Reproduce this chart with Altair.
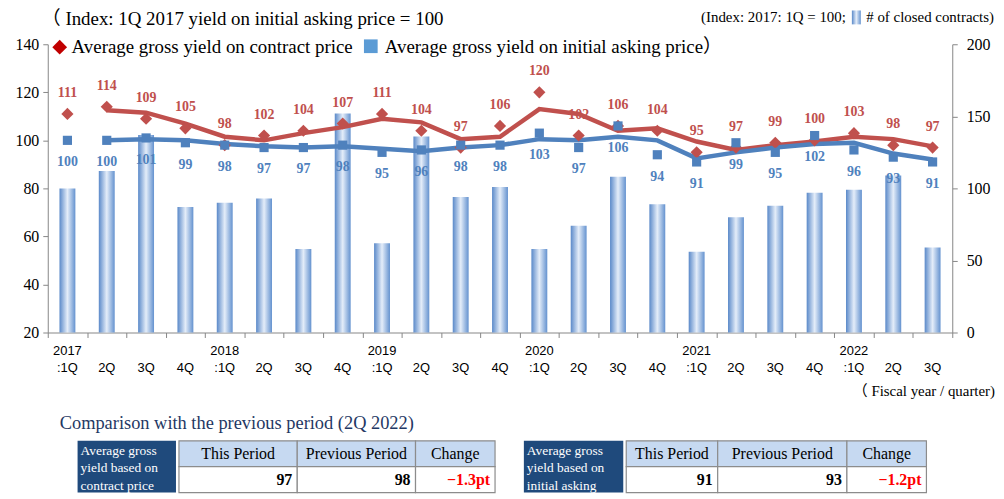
import altair as alt
import pandas as pd

# ---------------- data ----------------
periods = ["2017 1Q", "2017 2Q", "2017 3Q", "2017 4Q",
           "2018 1Q", "2018 2Q", "2018 3Q", "2018 4Q",
           "2019 1Q", "2019 2Q", "2019 3Q", "2019 4Q",
           "2020 1Q", "2020 2Q", "2020 3Q", "2020 4Q",
           "2021 1Q", "2021 2Q", "2021 3Q", "2021 4Q",
           "2022 1Q", "2022 2Q", "2022 3Q"]
year_labels = ["2017", "", "", "", "2018", "", "", "", "2019", "", "", "",
               "2020", "", "", "", "2021", "", "", "", "2022", "", ""]
quarter_labels = [":1Q", "2Q", "3Q", "4Q", ":1Q", "2Q", "3Q", "4Q",
                  ":1Q", "2Q", "3Q", "4Q", ":1Q", "2Q", "3Q", "4Q",
                  ":1Q", "2Q", "3Q", "4Q", ":1Q", "2Q", "3Q"]
contract_yield = [111, 114, 109, 105, 98, 102, 104, 107, 111, 104, 97, 106,
                  120, 102, 106, 104, 95, 97, 99, 100, 103, 98, 97]
asking_yield = [100, 100, 101, 99, 98, 97, 97, 98, 95, 96, 98, 98,
                103, 97, 106, 94, 91, 99, 95, 102, 96, 93, 91]
closed_contracts = [100, 112, 137, 87, 90, 93, 58, 152, 62, 136, 94, 101,
                    58, 74, 108, 89, 56, 80, 88, 97, 99, 109, 59]

table_headers = ["This Period", "Previous Period", "Change"]
contract_summary = ["97", "98", "\u22121.3pt"]
asking_summary = ["91", "93", "\u22121.2pt"]

# ---------------- styles ----------------
SERIF = "Liberation Serif, Noto Sans CJK JP"
SANS = "Liberation Sans"
RED = "#c0504d"
BLUE = "#4f81bd"
AX = "#868686"
W, H = 910, 290

df = pd.DataFrame({
    "idx": list(range(len(periods))),
    "period": periods,
    "year": year_labels,
    "quarter": quarter_labels,
    "contract": contract_yield,
    "asking": asking_yield,
    "contracts": closed_contracts,
})

xenc = alt.X("period:N", sort=periods,
             scale=alt.Scale(type="band", paddingInner=0, paddingOuter=0),
             axis=alt.Axis(labels=False, title=None, tickBand="extent", tickSize=5,
                           tickColor=AX, domainColor=AX, grid=False))

left_scale = alt.Scale(domain=[20, 140], nice=False, zero=False)
left_axis = alt.Axis(values=[20, 40, 60, 80, 100, 120, 140], title=None, grid=False,
                     tickSize=5, labelPadding=4, labelFont=SERIF, labelFontSize=16,
                     labelColor="black", domainColor=AX, tickColor=AX)

grad = alt.Gradient(gradient="linear",
                    stops=[alt.GradientStop(color="#5a89c9", offset=0),
                           alt.GradientStop(color="#e4edf9", offset=0.5),
                           alt.GradientStop(color="#6492cf", offset=1)],
                    x1=0, x2=1, y1=0, y2=0)

base = alt.Chart(df)

bars = base.mark_bar(size=16, color=grad).encode(
    x=xenc,
    y=alt.Y("contracts:Q", scale=alt.Scale(domain=[0, 200], nice=False),
            axis=alt.Axis(orient="right", values=[0, 50, 100, 150, 200], title=None,
                          grid=False, tickSize=5, labelPadding=9, labelFont=SERIF,
                          labelFontSize=16, labelColor="black", domainColor=AX,
                          tickColor=AX)),
)

def ma_line(field, color, with_axis=False):
    return base.transform_window(
        ma=f"mean({field})", frame=[-1, 0], sort=[alt.SortField("idx")]
    ).transform_filter("datum.idx > 0").mark_line(
        color=color, strokeWidth=4.5
    ).encode(
        x=xenc,
        y=alt.Y("ma:Q", scale=left_scale, axis=left_axis if with_axis else None),
        order="idx:Q",
    )

red_line = ma_line("contract", RED, with_axis=True)
blue_line = ma_line("asking", BLUE)

red_pts = base.mark_point(shape="diamond", filled=True, size=150, color=RED, opacity=1).encode(
    x=xenc, y=alt.Y("contract:Q", scale=left_scale, axis=None))
blue_pts = base.mark_point(shape="square", filled=True, size=85, color=BLUE, opacity=1).encode(
    x=xenc, y=alt.Y("asking:Q", scale=left_scale, axis=None))

red_lbl = base.mark_text(dy=-21, font=SERIF, fontSize=14, fontWeight="bold", color=RED).encode(
    x=xenc, y=alt.Y("contract:Q", scale=left_scale, axis=None), text="contract:Q")
blue_lbl = base.mark_text(dy=22, font=SERIF, fontSize=14, fontWeight="bold", color=BLUE).encode(
    x=xenc, y=alt.Y("asking:Q", scale=left_scale, axis=None), text="asking:Q")

year_txt = base.mark_text(font=SANS, fontSize=13, color="black", baseline="middle").encode(
    x=xenc, y=alt.value(309), text="year:N")
q_txt = base.mark_text(font=SANS, fontSize=13, color="black", baseline="middle").encode(
    x=xenc, y=alt.value(326), text="quarter:N")

one = pd.DataFrame({"a": [0]})

def txt(s, x, y, size, color="black", align="left", font=SERIF, weight="normal"):
    return alt.Chart(one).mark_text(text=s, align=align, baseline="middle", font=font,
                                    fontSize=size, color=color, fontWeight=weight).encode(
        x=alt.value(x), y=alt.value(y))

def rect(x0, x1, y0, y1, fill, stroke=None, sw=1.0):
    kw = dict(fill=fill)
    if stroke:
        kw.update(stroke=stroke, strokeWidth=sw)
    return alt.Chart(one).mark_rect(**kw).encode(
        x=alt.value(x0), x2=alt.value(x1), y=alt.value(y0), y2=alt.value(y1))

def sym(shape, x, y, size, color):
    return alt.Chart(one).mark_point(shape=shape, filled=True, size=size, color=color,
                                     opacity=1).encode(x=alt.value(x), y=alt.value(y))

annotations = [
    txt("\uff08 Index: 1Q 2017 yield on initial asking price = 100", -6, -25, 19),
    sym("diamond", 12, 3, 220, "#c00000"),
    txt("Average gross yield on contract price", 24, 3, 19),
    sym("square", 325, 2, 190, "#5b9bd5"),
    txt("Average gross yield on initial asking price\uff09", 339, 3, 19),
    txt("(Index: 2017: 1Q = 100;", 803, -27, 15, align="right"),
    rect(809, 818, -34, -20, grad),
    txt("# of closed contracts)", 952, -27, 15, align="right"),
    txt("\uff08 Fiscal year / quarter)", 953, 349, 15, align="right"),
    txt("Comparison with the previous period (2Q 2022)", 12, 381, 18.5, color="#1f3864"),
]

def summary_table(dark_x0, dark_x1, cols, lines, values):
    layers = [rect(dark_x0, dark_x1, 399, 451, "#1f4a7c")]
    for i, ln in enumerate(lines):
        layers.append(txt(ln, dark_x0 + 3, 409 + i * 17.5, 13.5, color="white"))
    for i in range(3):
        layers.append(rect(cols[i], cols[i + 1], 399, 425, "#c6d9f1", "#8c8c8c", 1.2))
        layers.append(rect(cols[i], cols[i + 1], 425, 451, "white", "#8c8c8c", 1.2))
        layers.append(txt(table_headers[i], (cols[i] + cols[i + 1]) / 2, 412, 16,
                          align="center"))
        layers.append(txt(values[i], cols[i + 1] - 5, 438, 16, align="right",
                          weight="bold", color="#ff0000" if i == 2 else "black"))
    return layers

annotations += summary_table(30, 129, [132, 251, 370, 450],
                             ["Average gross", "yield based on", "contract price"],
                             contract_summary)
annotations += summary_table(479, 579, [582, 674, 804, 884],
                             ["Average gross", "yield based on", "initial asking"],
                             asking_summary)

chart = alt.layer(
    bars, red_line, blue_line, red_pts, blue_pts, red_lbl, blue_lbl, year_txt, q_txt,
    *annotations
).resolve_scale(y="independent").properties(
    width=W, height=H,
    autosize=alt.AutoSizeParams(type="none"),
    padding={"left": 40, "top": 35, "right": 44, "bottom": 162},
    background="white",
).configure_view(stroke=None)

chart.save("out.html", embed_options={"renderer": "svg", "actions": False})
